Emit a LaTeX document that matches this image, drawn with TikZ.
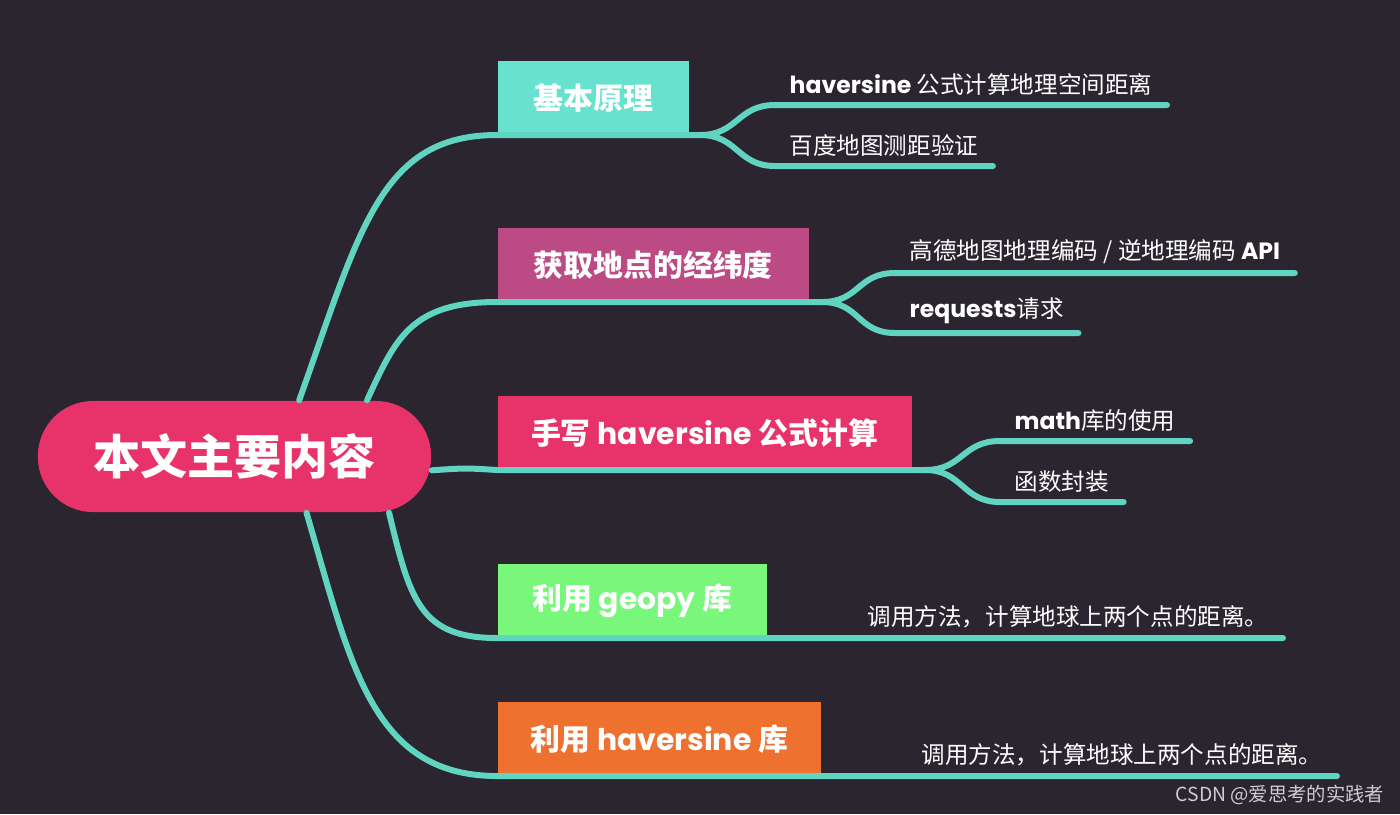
\documentclass[tikz,border=0pt]{standalone}
\usepackage{fontspec}
\setmainfont{Noto Sans CJK SC}
\newfontfamily\latin{Poppins}
\usetikzlibrary{positioning}
\definecolor{bgdark}{RGB}{42,37,47}
\definecolor{branchteal}{RGB}{96,212,192}
\definecolor{rootred}{RGB}{232,51,106}
\definecolor{boxteal}{RGB}{102,226,207}
\definecolor{boxplum}{RGB}{187,74,133}
\definecolor{boxgreen}{RGB}{120,247,123}
\definecolor{boxorange}{RGB}{238,113,48}
\definecolor{marktext}{RGB}{205,205,210}

\begin{document}
\begin{tikzpicture}[
    x=0.01cm, y=-0.01cm,
    root/.style={fill=rootred, rounded corners=0.55cm, minimum width=3.93cm, minimum height=1.11cm, text=white, font=\bfseries\fontsize{13.4}{16}\selectfont},
    topic/.style={fill=#1, anchor=south west, minimum height=0.73cm, inner sep=0pt, text=white, font=\bfseries\fontsize{8.5}{10}\selectfont},
    leaf/.style={anchor=south west, inner xsep=0.14cm, inner ysep=0.09cm, text=white, font=\fontsize{6.7}{8}\selectfont},
    branch/.style={line width=0.06cm, draw=branchteal, line cap=round}
]
\fill[bgdark] (0,0) rectangle (1400,814);

% centre and main topics
\node[root] (root) at (234.5,456.5) {本文主要内容};
\node[topic=boxteal, minimum width=1.91cm] (yuanli) at (497,135) {基本原理};
\node[topic=boxplum, minimum width=3.11cm] (jingwei) at (497,302) {获取地点的经纬度};
\node[topic=rootred, minimum width=4.14cm] (shouxie) at (497,470) {手写 {\latin haversine} 公式计算};
\node[topic=boxgreen, minimum width=2.69cm] (geopy) at (497,638) {利用 {\latin geopy} 库};
\node[topic=boxorange, minimum width=3.23cm] (hvlib) at (497,776) {利用 {\latin haversine} 库};

% leaves
\node[leaf] (gongshi) at (775,105) {{\latin\bfseries haversine} 公式计算地理空间距离};
\node[leaf] (baidu) at (775,166) {百度地图测距验证};
\node[leaf] (gaode) at (895,273) {高德地图地理编码 / 逆地理编码 {\latin\bfseries API}};
\node[leaf] (requests) at (895,333) {{\latin\bfseries requests}请求};
\node[leaf] (mathku) at (1000,441) {{\latin\bfseries math}库的使用};
\node[leaf] (fengzhuang) at (1000,502) {函数封装};
\node[leaf] (geopyuse) at (853,638) {调用方法，计算地球上两个点的距离。};
\node[leaf] (hvuse) at (907,776) {调用方法，计算地球上两个点的距离。};

\coordinate (fork1) at (700,135);
\coordinate (fork2) at (822,302);
\coordinate (fork3) at (925,470);

% branches
\draw[branch] (root.41) .. controls (360,230) and (380,135) .. (yuanli.south west) -- (fork1);
\draw[branch] (root.23) .. controls (395,340) and (410,302) .. (jingwei.south west) -- (fork2);
\draw[branch] (root.-4) .. controls (465,468) .. (shouxie.south west) -- (fork3);
\draw[branch] (root.-20) .. controls (410,600) and (420,638) .. (geopy.south west) -- (geopyuse.south east);
\draw[branch] (root.-38) .. controls (350,660) and (370,776) .. (hvlib.south west) -- (hvuse.south east);

\draw[branch] (fork1) .. controls +(38,0) and +(-38,0) .. (gongshi.south west) -- (gongshi.south east);
\draw[branch] (fork1) .. controls +(38,0) and +(-38,0) .. (baidu.south west) -- (baidu.south east);
\draw[branch] (fork2) .. controls +(38,0) and +(-38,0) .. (gaode.south west) -- (gaode.south east);
\draw[branch] (fork2) .. controls +(38,0) and +(-38,0) .. (requests.south west) -- (requests.south east);
\draw[branch] (fork3) .. controls +(38,0) and +(-38,0) .. (mathku.south west) -- (mathku.south east);
\draw[branch] (fork3) .. controls +(38,0) and +(-38,0) .. (fengzhuang.south west) -- (fengzhuang.south east);

\node[anchor=east, inner sep=0pt, text=marktext, font=\fontsize{5.5}{7}\selectfont] (mark) at (1385,795) {CSDN @爱思考的实践者};
\end{tikzpicture}
\end{document}
